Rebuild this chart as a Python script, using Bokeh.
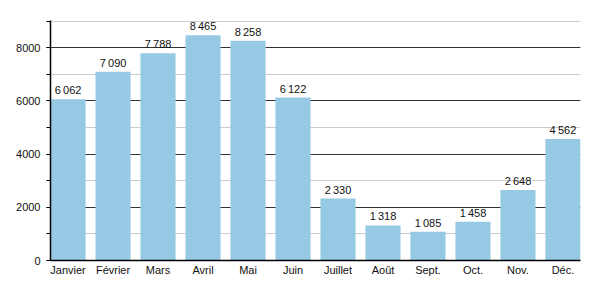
from bokeh.plotting import figure
from bokeh.models import Range1d, SingleIntervalTicker, FixedTicker, ColumnDataSource
from bokeh.core.properties import value
from bokeh.embed import file_html
from bokeh.resources import INLINE

months = ["Janvier", "Février", "Mars", "Avril", "Mai", "Juin",
          "Juillet", "Août", "Sept.", "Oct.", "Nov.", "Déc."]
values = [6062, 7090, 7788, 8465, 8258, 6122, 2330, 1318, 1085, 1458, 2648, 4562]

def fmt(v):
    s = f"{v:,}"
    return s.replace(",", "\u202f")

xs = list(range(len(months)))
labels = [fmt(v) for v in values]
src = ColumnDataSource(dict(x=xs, top=values, label=labels))

FONT = "Liberation Sans"
W = 0.78

p = figure(width=600, height=300, output_backend="svg", toolbar_location=None,
           x_range=Range1d(-W / 2, len(months) - 1 + W / 2), y_range=Range1d(0, 9020),
           min_border_left=50, min_border_right=20, min_border_top=20, min_border_bottom=40)
p.outline_line_color = None
p.background_fill_color = "white"

p.vbar(x="x", top="top", bottom=0, width=W, source=src, fill_color="#96cae4", line_color=None)

p.text(x="x", y="top", text="label", source=src, text_align="center", text_baseline="bottom",
       y_offset=-3, text_font=value(FONT), text_font_size="11px", text_color="#111111")

p.yaxis.ticker = SingleIntervalTicker(interval=2000, num_minor_ticks=2)
p.ygrid.ticker = p.yaxis.ticker
p.ygrid.grid_line_color = "#333333"
p.ygrid.grid_line_width = 1
p.ygrid.minor_grid_line_color = "#cccccc"
p.ygrid.minor_grid_line_width = 1
p.xgrid.grid_line_color = None

p.yaxis.axis_line_color = "black"
p.yaxis.axis_line_width = 1.5
p.yaxis.major_tick_out = 4
p.yaxis.major_tick_in = 0
p.yaxis.minor_tick_out = 4
p.yaxis.minor_tick_in = 0
p.yaxis.major_tick_line_color = "black"
p.yaxis.minor_tick_line_color = "black"
p.yaxis.major_label_text_font = FONT
p.yaxis.major_label_text_font_size = "11px"
p.yaxis.major_label_text_color = "#111111"
p.yaxis.major_label_standoff = 6

p.xaxis.ticker = FixedTicker(ticks=xs)
p.xaxis.major_label_overrides = {i: m for i, m in enumerate(months)}
p.xaxis.axis_line_color = "black"
p.xaxis.axis_line_width = 1.5
p.xaxis.major_tick_line_color = None
p.xaxis.minor_tick_line_color = None
p.xaxis.major_tick_out = 0
p.xaxis.major_tick_in = 0
p.xaxis.major_label_text_font = FONT
p.xaxis.major_label_text_font_size = "11px"
p.xaxis.major_label_text_color = "#111111"
p.xaxis.major_label_standoff = 3

open("out.html", "w").write(file_html(p, INLINE))
